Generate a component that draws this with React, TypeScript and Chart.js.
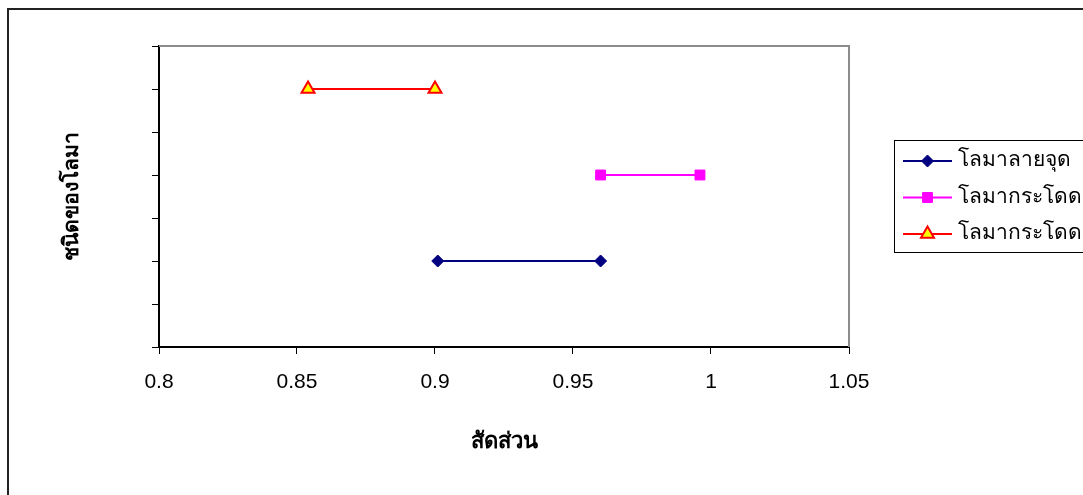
import { useEffect, useRef } from 'react';
import { Chart, registerables } from 'chart.js';
import { drawPoint } from 'chart.js/helpers';

Chart.register(...registerables);

// Dolphin types and their proportion ranges
const seriesNames = ['โลมาลายจุด', 'โลมากระโดด', 'โลมากระโดด'];
const spottedX = [0.901, 0.96];
const spottedY = [2, 2];
const spinnerX = [0.96, 0.996];
const spinnerY = [4, 4];
const spinner2X = [0.854, 0.9];
const spinner2Y = [6, 6];

const xTicks = [0.8, 0.85, 0.9, 0.95, 1, 1.05];
const xTitle = 'สัดส่วน';
const yTitle = 'ชนิดของโลมา';

const toPoints = (xs: number[], ys: number[]) => xs.map((x, i) => ({ x, y: ys[i] }));

const decorPlugin = {
  id: 'decor',
  beforeDraw(chart: any) {
    const { ctx, width, height } = chart;
    ctx.save();
    ctx.fillStyle = '#fff';
    ctx.fillRect(0, 0, width, height);
    ctx.restore();
  },
  beforeDatasetsDraw(chart: any) {
    const { ctx, chartArea: a } = chart;
    ctx.save();
    // plot area frame on the top and right sides
    ctx.strokeStyle = '#8c8c8c';
    ctx.lineWidth = 2;
    ctx.beginPath();
    ctx.moveTo(a.left, a.top);
    ctx.lineTo(a.right, a.top);
    ctx.lineTo(a.right, a.bottom);
    ctx.stroke();
    ctx.restore();
  },
  afterDraw(chart: any) {
    const { ctx, chartArea: a } = chart;
    ctx.save();

    // outer chart frame
    ctx.strokeStyle = '#222';
    ctx.lineWidth = 2;
    ctx.strokeRect(8, 9, 1200, 1200);

    // axis titles
    ctx.fillStyle = '#000';
    ctx.font = 'bold 22px "Liberation Serif", "DejaVu Serif", serif';
    ctx.textAlign = 'center';
    ctx.textBaseline = 'middle';
    ctx.fillText(xTitle, (a.left + a.right) / 2, 442);

    ctx.save();
    ctx.translate(73, (a.top + a.bottom) / 2);
    ctx.rotate(-Math.PI / 2);
    ctx.font = 'bold 21px "Liberation Serif", "DejaVu Serif", serif';
    ctx.fillText(yTitle, 0, 0);
    ctx.restore();

    // legend
    ctx.strokeStyle = '#000';
    ctx.lineWidth = 1;
    ctx.strokeRect(894.5, 140.5, 300, 112);
    const rows = [161, 197.5, 234];
    chart.data.datasets.forEach((ds: any, i: number) => {
      const y = rows[i];
      ctx.strokeStyle = ds.borderColor;
      ctx.lineWidth = 2;
      ctx.beginPath();
      ctx.moveTo(903, y);
      ctx.lineTo(952, y);
      ctx.stroke();
      ctx.fillStyle = ds.pointBackgroundColor;
      ctx.strokeStyle = ds.pointBorderColor;
      ctx.lineWidth = ds.pointBorderWidth;
      drawPoint(ctx, {
        pointStyle: ds.pointStyle,
        rotation: 0,
        radius: ds.pointRadius,
        borderWidth: ds.pointBorderWidth,
      }, 927.5, y);
      ctx.fillStyle = '#000';
      ctx.font = '21px Tahoma, "DejaVu Sans", "Noto Sans", sans-serif';
      ctx.textAlign = 'left';
      ctx.textBaseline = 'middle';
      ctx.fillText(seriesNames[i], 958, y);
    });

    ctx.restore();
  },
};

export default function App() {
  const canvasRef = useRef<HTMLCanvasElement | null>(null);

  useEffect(() => {
    const canvas = canvasRef.current;
    if (!canvas) return;

    const chart = new Chart(canvas, {
      type: 'scatter',
      data: {
        datasets: [
          {
            label: seriesNames[0],
            data: toPoints(spottedX, spottedY),
            showLine: true,
            borderColor: '#000080',
            borderWidth: 2,
            pointStyle: 'rectRot',
            pointRadius: 6,
            pointBackgroundColor: '#000080',
            pointBorderColor: '#000080',
            pointBorderWidth: 1,
          },
          {
            label: seriesNames[1],
            data: toPoints(spinnerX, spinnerY),
            showLine: true,
            borderColor: '#ff00ff',
            borderWidth: 2,
            pointStyle: 'rect',
            pointRadius: 7,
            pointBackgroundColor: '#ff00ff',
            pointBorderColor: '#ff00ff',
            pointBorderWidth: 1,
          },
          {
            label: seriesNames[2],
            data: toPoints(spinner2X, spinner2Y),
            showLine: true,
            borderColor: '#ff0000',
            borderWidth: 2,
            pointStyle: 'triangle',
            pointRadius: 7.5,
            pointBackgroundColor: '#ffff00',
            pointBorderColor: '#ff0000',
            pointBorderWidth: 2,
          },
        ] as any,
      },
      options: {
        animation: false,
        responsive: false,
        maintainAspectRatio: false,
        layout: { padding: { left: 97, right: 234, top: 46, bottom: 88 } },
        plugins: {
          legend: { display: false },
          tooltip: { enabled: false },
        },
        scales: {
          x: {
            type: 'linear',
            min: 0.8,
            max: 1.05,
            afterBuildTicks: (scale: any) => {
              scale.ticks = xTicks.map((v) => ({ value: v }));
            },
            afterFit: (scale: any) => {
              scale.height = 60;
            },
            ticks: {
              color: '#000',
              font: { family: '"Liberation Sans", Arial, sans-serif', size: 21 },
              padding: 16,
              maxRotation: 0,
              callback: (v: any) => String(v),
            },
            grid: {
              display: true,
              drawOnChartArea: false,
              drawTicks: true,
              tickLength: 7,
              color: '#000',
              lineWidth: 1,
            },
            border: { display: true, color: '#000', width: 2 },
          },
          y: {
            type: 'linear',
            min: 0,
            max: 7,
            ticks: { stepSize: 1, display: false },
            afterFit: (scale: any) => {
              scale.width = 62;
            },
            grid: {
              display: true,
              drawOnChartArea: false,
              drawTicks: true,
              tickLength: 7,
              color: '#000',
              lineWidth: 1,
            },
            border: { display: true, color: '#000', width: 2 },
          },
        },
      } as any,
      plugins: [decorPlugin],
    });

    return () => chart.destroy();
  }, []);

  return (
    <div style={{ position: 'fixed', left: 0, top: 0, width: 1083, height: 495, overflow: 'hidden', background: '#fff' }}>
      <canvas ref={canvasRef} width={1083} height={495} style={{ display: 'block', width: 1083, height: 495 }} />
    </div>
  );
}
